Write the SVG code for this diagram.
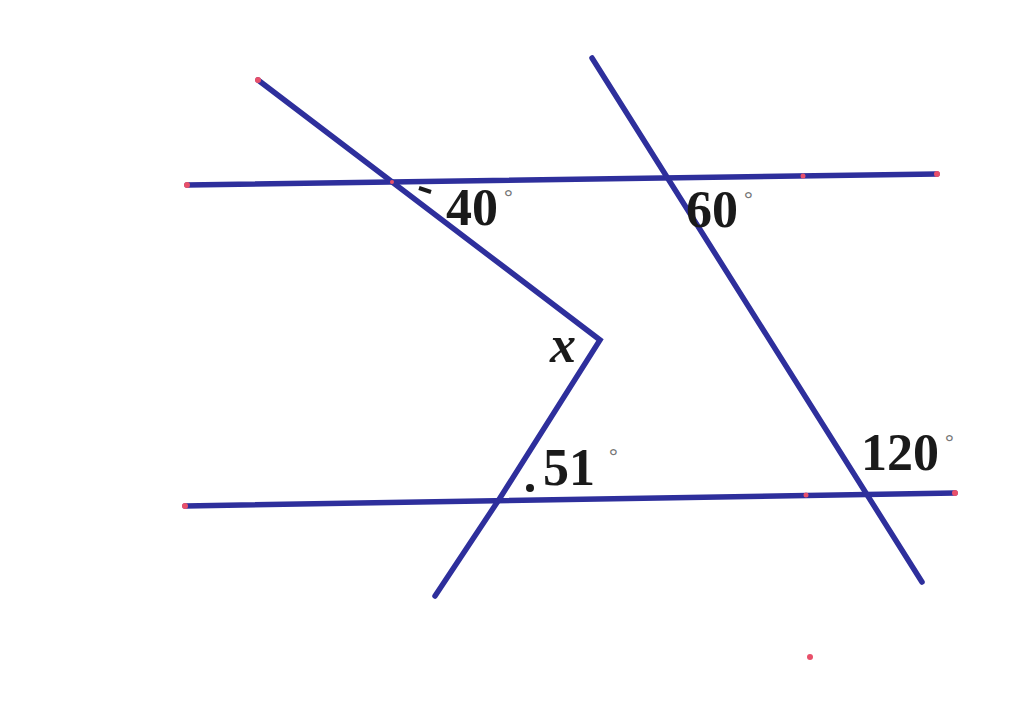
<svg xmlns="http://www.w3.org/2000/svg" width="1024" height="713" viewBox="0 0 1024 713">
<style>
.ln{stroke:#2e2f9c;stroke-width:5.5;stroke-linecap:round;fill:none}
.pt{fill:#e8506a}
.lb{font-family:"Liberation Serif",serif;font-weight:bold;font-size:52px;fill:#1a1a1a}
.dg{font-size:22px;fill:#777777}
</style>
<rect width="1024" height="713" fill="#ffffff"/>
<g id="connectors">
<line class="ln" x1="187" y1="185" x2="937" y2="174"/>
<line class="ln" x1="185" y1="506" x2="955" y2="493"/>
<polyline class="ln" points="258,80 600,340 500,498 435,596"/>
<line class="ln" x1="592" y1="58" x2="922" y2="582"/>
</g>
<g id="points">
<circle class="pt" cx="187" cy="185" r="3"/>
<circle class="pt" cx="258" cy="80" r="3"/>
<circle class="pt" cx="937" cy="174" r="3"/>
<circle class="pt" cx="185" cy="506" r="3"/>
<circle class="pt" cx="955" cy="493" r="3"/>
<circle class="pt" cx="803" cy="176" r="2.5"/>
<circle class="pt" cx="806" cy="495" r="2.5"/>
<circle class="pt" cx="810" cy="657" r="3"/>
<circle class="pt" cx="392" cy="182" r="2"/>
</g>
<g id="marks">
<path d="M419 188 L431 192" stroke="#1a1a1a" stroke-width="4" fill="none"/>
<circle cx="530" cy="488" r="4" fill="#1a1a1a"/>
</g>
<g id="label-40"><text class="lb" x="446" y="225">40<tspan class="dg" dx="6" dy="-21">°</tspan></text></g>
<g id="label-60"><text class="lb" x="686" y="227">60<tspan class="dg" dx="6" dy="-21">°</tspan></text></g>
<g id="label-x"><text class="lb" x="550" y="362" font-style="italic" font-size="48">x</text></g>
<g id="label-51"><text class="lb" x="543" y="485">51<tspan class="dg" dx="14" dy="-22">°</tspan></text></g>
<g id="label-120"><text class="lb" x="861" y="470">120<tspan class="dg" dx="6" dy="-21">°</tspan></text></g>
</svg>
